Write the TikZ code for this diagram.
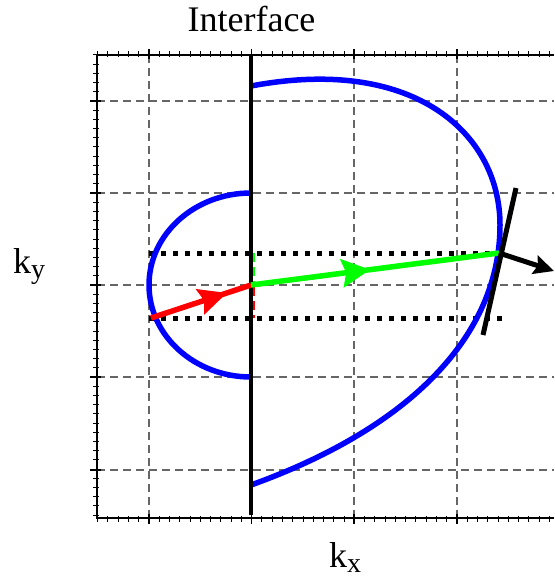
\documentclass[tikz,border=0pt]{standalone}
\usepackage{fontspec}
\setmainfont{Liberation Serif}
\usetikzlibrary{arrows.meta,decorations.markings}
\begin{document}
\begin{tikzpicture}[x=1pt,y=-1pt,
  gridline/.style={draw=black!60,line width=1.1pt,dash pattern=on 8pt off 5pt},
  axisline/.style={draw=black,line width=1.6pt},
  tickline/.style={draw=black,line width=1pt},
  bluecurve/.style={draw=blue,line width=5.5pt},
  dottedline/.style={draw=black,line width=5pt,dash pattern=on 5pt off 7pt},
  vecred/.style={draw=red,line width=5.5pt,
    postaction={decorate},decoration={markings,
      mark=at position 0.76 with {\arrow[red]{Stealth[length=28pt,width=26pt,inset=4pt]}}}},
  vecgreen/.style={draw=green,line width=5.5pt,
    postaction={decorate},decoration={markings,
      mark=at position 0.48 with {\arrow[green]{Stealth[length=28pt,width=28pt,inset=4pt]}}}},
  lbl/.style={font=\fontsize{36}{40}\selectfont,inner sep=0pt,anchor=base west}]
\useasboundingbox (0,0) rectangle (554,577);
% grid
\foreach \gx in {149,354,457}{\draw[gridline] (\gx,55) -- (\gx,518);}
\foreach \gy in {101,193,285,377,470}{\draw[gridline] (97,\gy) -- (554,\gy);}
% axes frame
\draw[axisline] (554,55) -- (97,55) -- (97,518) -- (554,518);
% ticks horizontal axes
\foreach \i in {-5,...,39}{
  \pgfmathsetmacro{\tx}{149+10.267*\i}
  \draw[tickline] (\tx,51.5) -- (\tx,57);
  \draw[tickline] (\tx,521.5) -- (\tx,516);
}
\foreach \gx in {149,251.5,354,457}{
  \draw[tickline,line width=1.4pt] (\gx,49) -- (\gx,59);
  \draw[tickline,line width=1.4pt] (\gx,524) -- (\gx,514);
}
% ticks vertical axis
\foreach \i in {-5,...,45}{
  \pgfmathsetmacro{\ty}{101+9.2*\i}
  \draw[tickline] (93,\ty) -- (98.5,\ty);
}
\foreach \gy in {101,193,285,377,470}{
  \draw[tickline,line width=1.4pt] (90,\gy) -- (101,\gy);
}
% key points
\coordinate (O) at (251,285);
\coordinate (R) at (151,318);
\coordinate (P) at (499,253);
\coordinate (Ta) at (516,188);
\coordinate (Tb) at (483,335);
\coordinate (N) at (554,271);
% dotted lines
\draw[dottedline] (149,253) -- (502,253);
\draw[dottedline] (149,318) -- (502,318);
% blue curves
\draw[bluecurve] (251,193) arc[start angle=-90,end angle=-270,x radius=102,y radius=92];
\draw[bluecurve] (251,86) .. controls (416,55) and (500,135) .. (500,225)
  .. controls (500,335) and (411,427.5) .. (251,485);
% component dashes on interface
\draw[green,line width=6.5pt,dash pattern=on 9pt off 5pt] (252,253) -- (252,285);
\draw[red,line width=6.5pt,dash pattern=on 9pt off 5pt] (252,287) -- (252,318);
% interface
\draw[black,line width=4pt] (251,55) -- (251,515);
% vectors
\draw[vecred] (R) -- (O);
\draw[vecgreen] (O) -- (P);
\draw[black,line width=5pt] (Ta) -- (Tb);
\draw[black,line width=5pt,-{Stealth[length=20pt,width=19pt,inset=3pt]}] (P) -- (N);
% labels
\node[lbl,anchor=base] (tint) at (251.5,32) {Interface};
\node[lbl] (tky) at (13,273) {k\raisebox{-5pt}{\fontsize{28}{28}\selectfont y}};
\node[lbl] (tkx) at (329,567) {k\raisebox{-5pt}{\fontsize{28}{28}\selectfont x}};
\end{tikzpicture}
\end{document}
